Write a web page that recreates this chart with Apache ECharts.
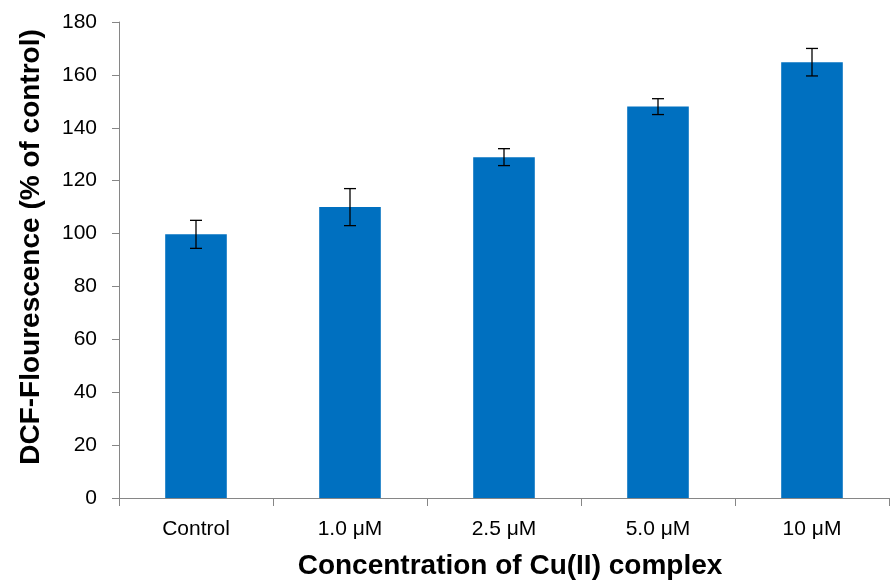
<!DOCTYPE html>
<html>
<head>
<meta charset="utf-8">
<script src="https://cdn.jsdelivr.net/npm/echarts@6/dist/echarts.min.js"></script>
<style>html,body{margin:0;padding:0;background:#fff}#c{width:895px;height:581px}</style>
</head>
<body>
<div id="c"></div>
<script>
var categories = ['Control', '1.0 μM', '2.5 μM', '5.0 μM', '10 μM'];
var values = [99.7, 110, 128.9, 148, 164.8];
var errors = [5.3, 7, 3.2, 3, 5.2];

var chart = echarts.init(document.getElementById('c'));
var font = '"Liberation Sans", Arial, sans-serif';
chart.setOption({
  animation: false,
  grid: { left: 119, right: 6, top: 22, bottom: 83, containLabel: false, outerBoundsMode: 'none' },
  xAxis: {
    type: 'category',
    data: categories,
    name: 'Concentration of Cu(II) complex',
    nameLocation: 'middle',
    nameGap: 54,
    nameTextStyle: { fontFamily: font, fontSize: 28, fontWeight: 'bold', color: '#000', padding: [0, 0, 0, 12] },
    axisLine: { lineStyle: { color: '#868686', width: 1 } },
    axisTick: { show: true, length: 8, lineStyle: { color: '#868686' } },
    axisLabel: { fontFamily: font, fontSize: 21, color: '#000', margin: 21 }
  },
  yAxis: {
    type: 'value',
    min: 0, max: 180, interval: 20,
    name: 'DCF-Flourescence (% of control)',
    nameLocation: 'middle',
    nameGap: 74,
    nameTextStyle: { fontFamily: font, fontSize: 28, fontWeight: 'bold', color: '#000', padding: [0, 0, 0, 26] },
    axisLine: { show: true, lineStyle: { color: '#868686', width: 1 } },
    axisTick: { show: true, length: 7, lineStyle: { color: '#868686' } },
    axisLabel: { fontFamily: font, fontSize: 21, color: '#000', margin: 22 },
    splitLine: { show: false }
  },
  series: [
    {
      type: 'bar',
      data: values,
      barWidth: '40%',
      itemStyle: { color: '#0070C0' }
    },
    {
      type: 'custom',
      data: values.map(function (v, i) { return [i, v - errors[i], v + errors[i]]; }),
      z: 10,
      renderItem: function (params, api) {
        var lo = api.coord([api.value(0), api.value(1)]);
        var hi = api.coord([api.value(0), api.value(2)]);
        var hw = 6;
        var st = { stroke: '#000', lineWidth: 1.3 };
        return {
          type: 'group',
          children: [
            { type: 'line', shape: { x1: hi[0], y1: hi[1], x2: lo[0], y2: lo[1] }, style: st },
            { type: 'line', shape: { x1: hi[0] - hw, y1: hi[1], x2: hi[0] + hw, y2: hi[1] }, style: st },
            { type: 'line', shape: { x1: lo[0] - hw, y1: lo[1], x2: lo[0] + hw, y2: lo[1] }, style: st }
          ]
        };
      }
    }
  ]
});
</script>
</body>
</html>
